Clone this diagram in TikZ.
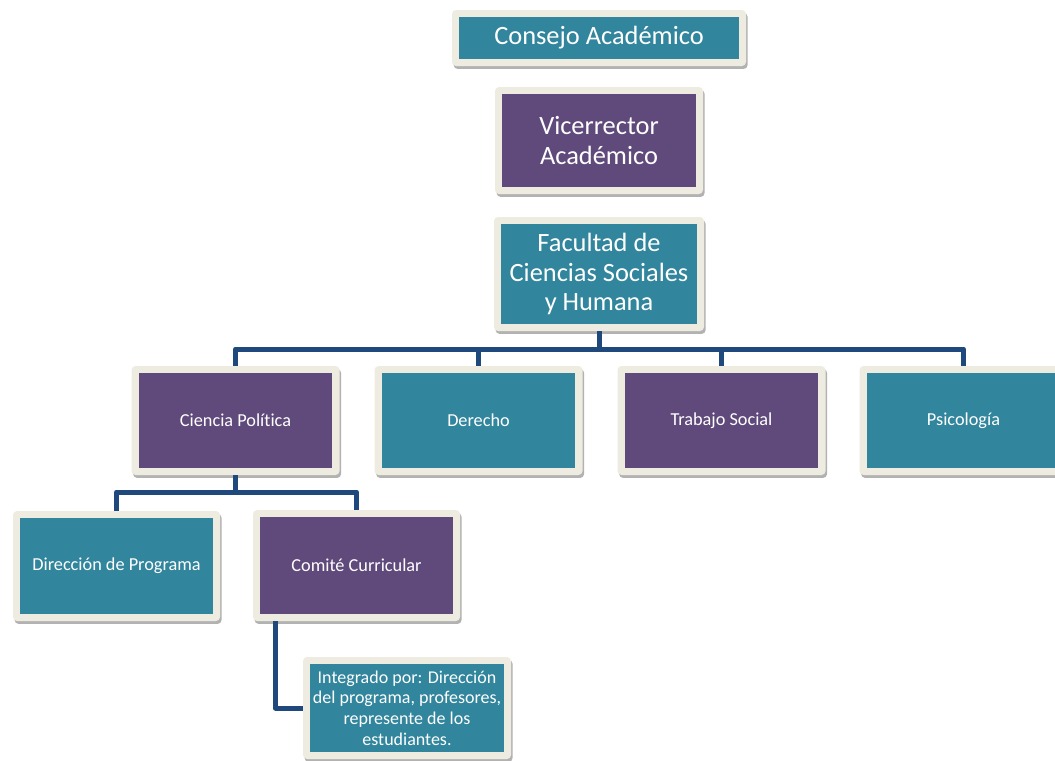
\documentclass[tikz,border=0pt]{standalone}
\usepackage{fontspec}
\setmainfont{Carlito}[Ligatures=NoCommon]
\usetikzlibrary{shadows}
\definecolor{tealc}{HTML}{31859C}
\definecolor{purpc}{HTML}{604A7B}
\definecolor{creamc}{HTML}{EEECE1}
\definecolor{navyc}{HTML}{1F497D}
\tikzset{
  orgbox/.style={rounded corners=3pt, fill=creamc, inner sep=0pt, align=center, text=white,
    minimum width=156pt, minimum height=81.75pt,
    drop shadow={shadow xshift=1.2pt, shadow yshift=-2.2pt, opacity=0.3, fill=black}},
  tealbox/.style={orgbox, path picture={\fill[tealc, sharp corners] ([xshift=5.6pt,yshift=5.6pt]path picture bounding box.south west) rectangle ([xshift=-5.6pt,yshift=-5.6pt]path picture bounding box.north east);}},
  purpbox/.style={orgbox, path picture={\fill[purpc, sharp corners] ([xshift=5.6pt,yshift=5.6pt]path picture bounding box.south west) rectangle ([xshift=-5.6pt,yshift=-5.6pt]path picture bounding box.north east);}},
  bigtxt/.style={font=\fontsize{19.8}{22.2}\selectfont},
  smalltxt/.style={font=\fontsize{13.7}{15.5}\selectfont},
  conn/.style={draw=navyc, line width=3.75pt, line join=round}
}
\begin{document}
\begin{tikzpicture}[x=0.75pt,y=-0.75pt]
\useasboundingbox (0,0) rectangle (1055,760);
\clip (0,0) rectangle (1055,760);
% connector points
\coordinate (bus2) at (599,349);
\coordinate (bus3) at (235.5,492);
% nodes
\node[tealbox, bigtxt, minimum width=220.5pt, minimum height=42pt] (ca) at (599,38) {Consejo Académico};
\node[purpbox, bigtxt, minimum width=156pt, minimum height=80.25pt] (vr) at (599,140.5) {Vicerrector\\Académico};
\node[tealbox, bigtxt, minimum width=157.5pt, minimum height=85.5pt] (fac) at (599,274) {Facultad de\\Ciencias Sociales\\y Humana};
\node[purpbox, smalltxt] (cp) at (235.5,420.5) {Ciencia Política};
\node[tealbox, smalltxt] (de) at (478.5,420.5) {Derecho};
\node[purpbox, smalltxt] (ts) at (721.5,420.5) {Trabajo Social};
\node[tealbox, smalltxt] (ps) at (963.5,420.5) {Psicología};
\node[tealbox, smalltxt, minimum width=155.25pt, minimum height=82.5pt] (dp) at (116.5,566) {Dirección de Programa};
\node[purpbox, smalltxt, minimum width=155.25pt, minimum height=83.25pt] (cc) at (356.5,565.5) {Comité Curricular};
\node[tealbox, font=\fontsize{13.5}{15.5}\selectfont, minimum width=156pt, minimum height=76.5pt] (it) at (407,708) {Integrado por: Dirección\\del programa, profesores,\\represente de los\\estudiantes.};
% connectors
\draw[conn] (fac.south) -- (bus2);
\draw[conn] (cp.north) |- (bus2) -| (ps.north);
\draw[conn] (de.north) -- (de.north |- bus2);
\draw[conn] (ts.north) -- (ts.north |- bus2);
\draw[conn] (cp.south) -- (bus3);
\draw[conn] (dp.north) |- (bus3) -| (cc.north);
\draw[conn] ([xshift=16.9pt]cc.south west) |- (it.west);
\end{tikzpicture}
\end{document}
